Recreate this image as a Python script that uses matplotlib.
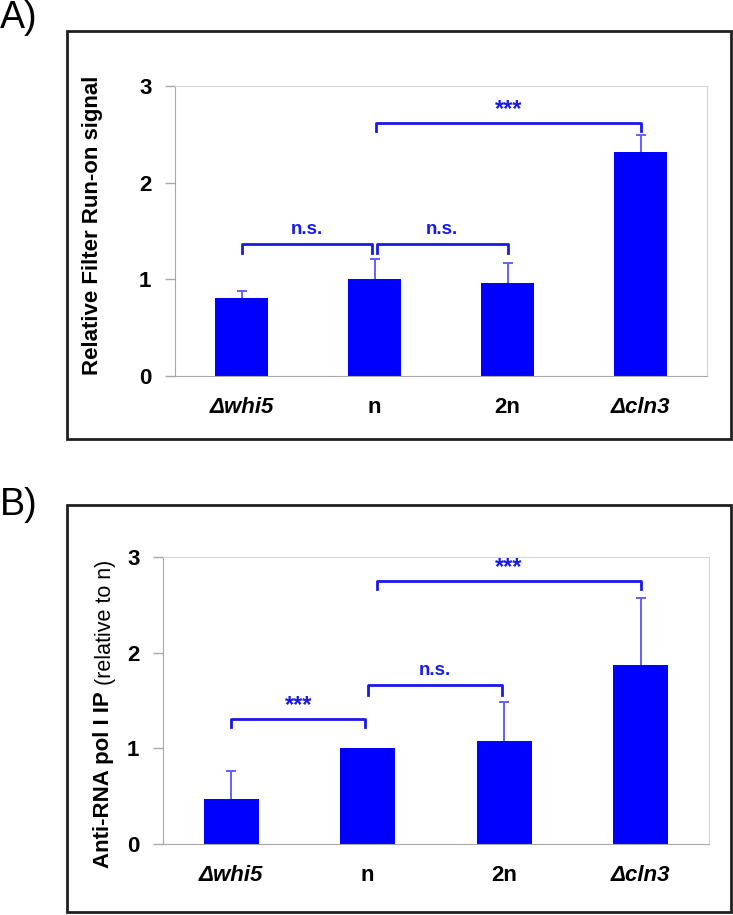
import matplotlib
matplotlib.use("Agg")
import matplotlib.pyplot as plt
from matplotlib.patches import Rectangle

plt.rcParams['font.family'] = ['Liberation Sans', 'DejaVu Sans']

# data
strains = ['Δwhi5', 'n', '2n', 'Δcln3']
runon_mean = [0.81, 1.00, 0.96, 2.32]
runon_err = [0.07, 0.21, 0.21, 0.17]
polI_mean = [0.47, 1.00, 1.08, 1.87]
polI_err = [0.29, 0.00, 0.40, 0.70]

# significance brackets: (left, right, top, drop, label)
brackets_a = [(0.0, 0.98, 1.37, 0.10, 'n.s.'),
              (1.02, 2.0, 1.37, 0.10, 'n.s.'),
              (1.01, 3.0, 2.62, 0.09, '***')]
brackets_b = [(0.0, 0.98, 1.31, 0.09, '***'),
              (1.0, 1.98, 1.66, 0.10, 'n.s.'),
              (1.07, 3.0, 2.75, 0.08, '***')]

BAR = '#0000ff'
ERR = '#6262ff'
SIG = '#1a1ae6'
GREY = '#a8a8a8'

W, H = 733, 915
fig = plt.figure(figsize=(W / 100, H / 100), dpi=100)


def fx(px):
    return px / W


def fy(py):
    return 1 - py / H


def draw_panel(ax, means, errs, brackets):
    x = list(range(len(strains)))
    ax.bar(x, means, width=0.4, color=BAR, zorder=2)
    # only the upper half shows, the bar hides the rest; skip empty errors
    keep = [i for i in x if errs[i] > 0]
    ax.errorbar([x[i] for i in keep], [means[i] for i in keep],
                yerr=[errs[i] for i in keep], fmt='none', ecolor=ERR,
                elinewidth=1.4, capsize=3.5, capthick=1.4, zorder=1.5)
    for x0, x1, top, drop, lab in brackets:
        ax.plot([x0, x0, x1, x1], [top - drop, top, top, top - drop],
                color=SIG, lw=2, solid_joinstyle='round', zorder=4)
        if lab == '***':
            ax.text((x0 + x1) / 2, top + 0.02, lab, ha='center', va='bottom',
                    color=SIG, fontsize=17, fontweight='bold')
        else:
            ax.text((x0 + x1) / 2, top + 0.06, lab, ha='center', va='bottom',
                    color=SIG, fontsize=13.5, fontweight='bold')
    ax.set_xlim(-0.5, 3.5)
    ax.set_ylim(0, 3)
    ax.set_yticks([0, 1, 2, 3])
    ax.set_xticks(x)
    ax.set_xticklabels(strains, fontsize=16, fontweight='bold')
    for lbl in ax.get_xticklabels()[::3]:
        lbl.set_style('italic')
    ax.tick_params(axis='x', length=0, pad=15)
    ax.tick_params(axis='y', length=7, width=1, color=GREY, labelsize=16,
                   pad=10)
    for lbl in ax.get_yticklabels():
        lbl.set_fontweight('bold')
    for s in ['left', 'bottom']:
        ax.spines[s].set_color(GREY)
    for s in ['top', 'right']:
        ax.spines[s].set_color('#d4d4d4')


# panel frames
for top, bottom in [(31, 439), (505, 912)]:
    fig.patches.append(Rectangle((fx(67), fy(bottom)), fx(731) - fx(67),
                                 fy(top) - fy(bottom), transform=fig.transFigure,
                                 fill=False, edgecolor='#202020', lw=2))

fig.text(0.0, fy(0), 'A)', fontsize=27, va='top', ha='left')
fig.text(0.0, fy(487), 'B)', fontsize=27, va='top', ha='left')

ax_a = fig.add_axes([fx(175), fy(376), fx(707) - fx(175), fy(86) - fy(376)])
draw_panel(ax_a, runon_mean, runon_err, brackets_a)
ax_a.set_ylabel('Relative Filter Run-on signal', fontsize=16,
                fontweight='bold')
ax_a.yaxis.set_label_coords((103 - 175) / 532, 0.52)

ax_b = fig.add_axes([fx(163), fy(844), fx(709) - fx(163), fy(557) - fy(844)])
draw_panel(ax_b, polI_mean, polI_err, brackets_b)

# two-part y label for panel B
t1 = fig.text(fx(104), fy(868), 'Anti-RNA pol I IP', rotation=90,
              rotation_mode='anchor', ha='left', va='center',
              fontsize=16, fontweight='bold')
fig.canvas.draw()
bb = t1.get_window_extent()
fig.text(fx(106), (bb.y1 + 6) / fig.bbox.height, '(relative to n)', rotation=90,
         rotation_mode='anchor', ha='left', va='center', fontsize=15.5)

fig.savefig('out.png', dpi=100)
